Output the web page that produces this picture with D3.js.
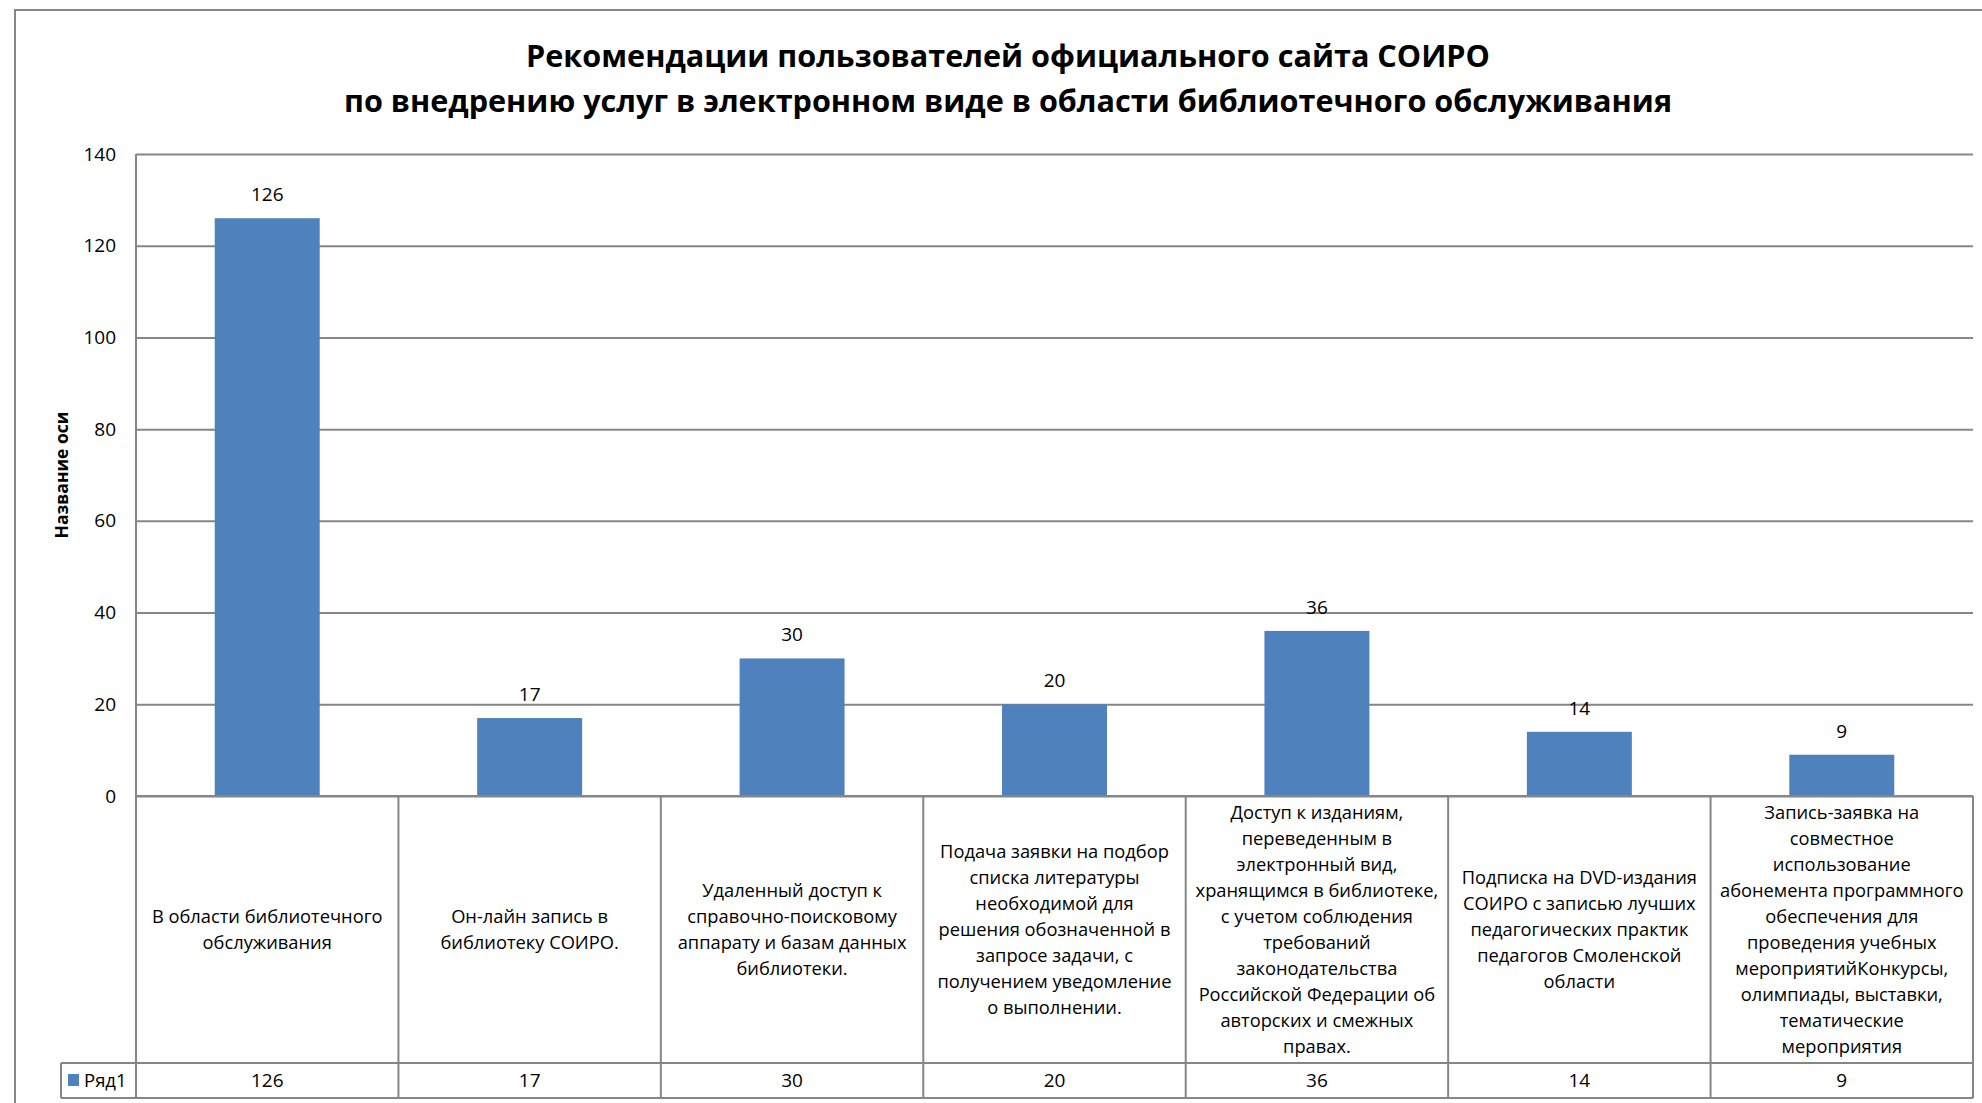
<!DOCTYPE html>
<html>
  <head>
    <meta charset="utf-8" />
    <title>Рекомендации пользователей</title>
    <script src="https://d3js.org/d3.v7.min.js"></script>
    <style>
        body{
            margin: 0;
            background: #fff;
        }
        text{
            font-family: "Open Sans", "Noto Sans", sans-serif;
        }
    </style>
  </head>
  <body>
    <svg id="vis"></svg>

    <script>
        // chart data
        var titleLines = [
            "Рекомендации пользователей официального сайта СОИРО",
            "по внедрению услуг в электронном виде в области библиотечного обслуживания"
        ];
        var categories = [
            ["В области библиотечного", "обслуживания"],
            ["Он-лайн запись в", "библиотеку СОИРО."],
            ["Удаленный доступ к", "справочно-поисковому", "аппарату и базам данных", "библиотеки."],
            ["Подача заявки на подбор", "списка литературы", "необходимой для", "решения обозначенной в", "запросе задачи, с", "получением уведомление", "о выполнении."],
            ["Доступ к изданиям,", "переведенным в", "электронный вид,", "хранящимся в библиотеке,", "с учетом соблюдения", "требований", "законодательства", "Российской Федерации об", "авторских и смежных", "правах."],
            ["Подписка на DVD-издания", "СОИРО с записью лучших", "педагогических практик", "педагогов Смоленской", "области"],
            ["Запись-заявка на", "совместное", "использование", "абонемента программного", "обеспечения для", "проведения учебных", "мероприятийКонкурсы,", "олимпиады, выставки,", "тематические", "мероприятия"]
        ];
        var values = [126, 17, 30, 20, 36, 14, 9];
        var seriesName = "Ряд1";
        var yTicks = [0, 20, 40, 60, 80, 100, 120, 140];
        var yTitle = "Название оси";

        var width = window.innerWidth;
        var height = window.innerHeight;

        var svg = d3.select("#vis").attr("width", width).attr("height", height);

        var grey = "#868686";
        var blue = "#4F81BD";

        var plot = {left: 136, right: 1973, top: 154, bottom: 796};
        var tableCatBottom = 1063, tableBottom = 1098, legendLeft = 61;

        // outer chart frame (right and bottom edges fall outside the picture)
        svg.append("path")
            .attr("d", "M15," + (height + 5) + "V10H" + (width + 5))
            .attr("fill", "none")
            .attr("stroke", grey)
            .attr("stroke-width", 2);

        // title
        svg.append("text")
            .attr("x", 1008)
            .attr("y", 67)
            .attr("text-anchor", "middle")
            .attr("font-size", 30.6)
            .attr("font-weight", "bold")
            .selectAll("tspan").data(titleLines).enter().append("tspan")
            .attr("x", 1008)
            .attr("dy", function(d, i){ return i === 0 ? 0 : 45; })
            .text(function(d){ return d; });

        var ids = d3.range(values.length);

        var x = d3.scaleBand()
            .domain(ids)
            .range([plot.left, plot.right])
            .paddingInner(0.6)
            .paddingOuter(0.3);

        var y = d3.scaleLinear()
            .domain([0, 140])
            .range([plot.bottom, plot.top]);

        var step = x.step();
        function cellLeft(i){ return x(i) - step * x.paddingInner() / 2; }

        // gridlines and tick labels
        var yAxis = svg.append("g")
            .attr("transform", "translate(" + plot.left + ",0)")
            .call(d3.axisLeft(y).tickValues(yTicks).tickSize(-(plot.right - plot.left)).tickPadding(20));
        yAxis.select(".domain").remove();
        yAxis.selectAll(".tick line").attr("stroke", grey).attr("stroke-width", 2);
        yAxis.selectAll(".tick text")
            .attr("font-size", 19)
            .attr("fill", "#000")
            .style("font-family", "'Open Sans', sans-serif");

        // axis title
        svg.append("text")
            .attr("transform", "translate(62," + ((plot.top + plot.bottom) / 2) + ") rotate(-90)")
            .attr("text-anchor", "middle")
            .attr("dy", "0.35em")
            .attr("font-size", 17.5)
            .attr("font-weight", "bold")
            .text(yTitle);

        // bars
        svg.append("g").selectAll("rect").data(ids).enter().append("rect")
            .attr("x", function(i){ return x(i); })
            .attr("y", function(i){ return y(values[i]); })
            .attr("width", x.bandwidth())
            .attr("height", function(i){ return y(0) - y(values[i]); })
            .attr("fill", blue);

        // data labels
        svg.append("g").selectAll("text").data(ids).enter().append("text")
            .attr("x", function(i){ return x(i) + x.bandwidth() / 2; })
            .attr("y", function(i){ return y(values[i]) - 17; })
            .attr("text-anchor", "middle")
            .attr("font-size", 19)
            .text(function(i){ return values[i]; });

        // data table
        var table = svg.append("g")
            .attr("stroke", grey)
            .attr("stroke-width", 2)
            .attr("fill", "none");

        // vertical axis line
        table.append("line")
            .attr("x1", plot.left).attr("x2", plot.left)
            .attr("y1", plot.top).attr("y2", tableBottom);

        table.append("line")
            .attr("x1", plot.left).attr("x2", plot.right)
            .attr("y1", plot.bottom).attr("y2", plot.bottom);
        table.append("line")
            .attr("x1", legendLeft).attr("x2", plot.right)
            .attr("y1", tableCatBottom).attr("y2", tableCatBottom);
        table.append("line")
            .attr("x1", legendLeft).attr("x2", plot.right)
            .attr("y1", tableBottom).attr("y2", tableBottom);
        table.append("line")
            .attr("x1", legendLeft).attr("x2", legendLeft)
            .attr("y1", tableCatBottom).attr("y2", tableBottom);

        table.selectAll("line.col").data(ids.slice(1).concat([values.length])).enter().append("line")
            .attr("class", "col")
            .attr("x1", function(i){ return i < values.length ? cellLeft(i) : plot.right; })
            .attr("x2", function(i){ return i < values.length ? cellLeft(i) : plot.right; })
            .attr("y1", plot.bottom).attr("y2", tableBottom);

        // category labels in the table
        var lineH = 26;
        var catMid = (plot.bottom + tableCatBottom) / 2;
        var catText = svg.append("g").selectAll("text").data(ids).enter().append("text")
            .attr("text-anchor", "middle")
            .attr("font-size", 18.3);
        catText.selectAll("tspan").data(function(i){
                return categories[i].map(function(t, k){ return {t: t, k: k, n: categories[i].length, i: i}; });
            }).enter().append("tspan")
            .attr("x", function(d){ return x(d.i) + x.bandwidth() / 2; })
            .attr("y", function(d){ return catMid + (d.k - (d.n - 1) / 2) * lineH; })
            .attr("dy", "0.35em")
            .text(function(d){ return d.t; });

        // values row
        svg.append("g").selectAll("text").data(ids).enter().append("text")
            .attr("x", function(i){ return x(i) + x.bandwidth() / 2; })
            .attr("y", (tableCatBottom + tableBottom) / 2)
            .attr("dy", "0.35em")
            .attr("text-anchor", "middle")
            .attr("font-size", 19)
            .text(function(i){ return values[i]; });

        // legend key
        svg.append("rect")
            .attr("x", 68).attr("y", 1074)
            .attr("width", 11).attr("height", 12)
            .attr("fill", blue);
        svg.append("text")
            .attr("x", 84)
            .attr("y", (tableCatBottom + tableBottom) / 2)
            .attr("dy", "0.35em")
            .attr("font-size", 18.5)
            .text(seriesName);
    </script>
  </body>
</html>
